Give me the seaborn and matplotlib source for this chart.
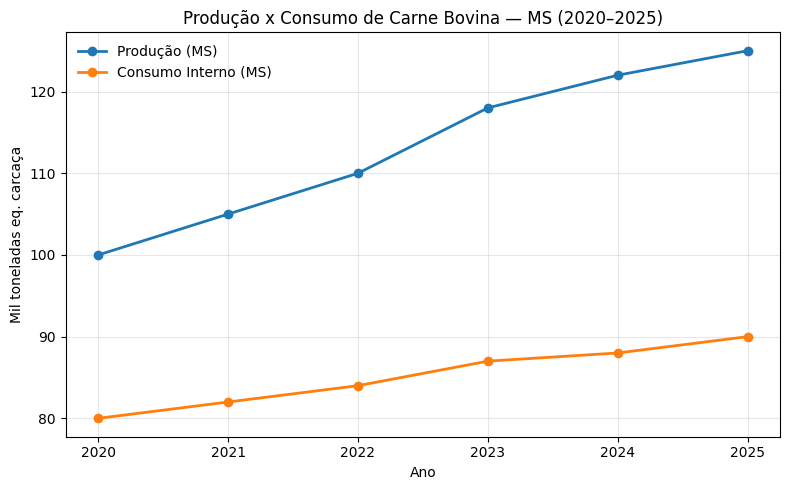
import seaborn as sns
import pandas as pd
import matplotlib.pyplot as plt

anos = [2020, 2021, 2022, 2023, 2024, 2025]
producao = [100, 105, 110, 118, 122, 125]
consumo = [80, 82, 84, 87, 88, 90]

df = pd.DataFrame({"Ano": anos, "Produção (MS)": producao, "Consumo Interno (MS)": consumo})

fig, ax = plt.subplots(figsize=(8, 5), dpi=100)

sns.lineplot(data=df, x="Ano", y="Produção (MS)", ax=ax, marker="o", markersize=7,
             markeredgewidth=0, linewidth=2, color="#1f77b4", label="Produção (MS)")
sns.lineplot(data=df, x="Ano", y="Consumo Interno (MS)", ax=ax, marker="o", markersize=7,
             markeredgewidth=0, linewidth=2, color="#ff7f0e", label="Consumo Interno (MS)")

ax.set_title("Produção x Consumo de Carne Bovina — MS (2020–2025)")
ax.set_xlabel("Ano")
ax.set_ylabel("Mil toneladas eq. carcaça")
ax.set_xticks(anos)
ax.grid(True, alpha=0.3)
ax.legend(loc="upper left", frameon=False)

plt.tight_layout()
plt.savefig("out.png", dpi=100, bbox_inches="tight")
